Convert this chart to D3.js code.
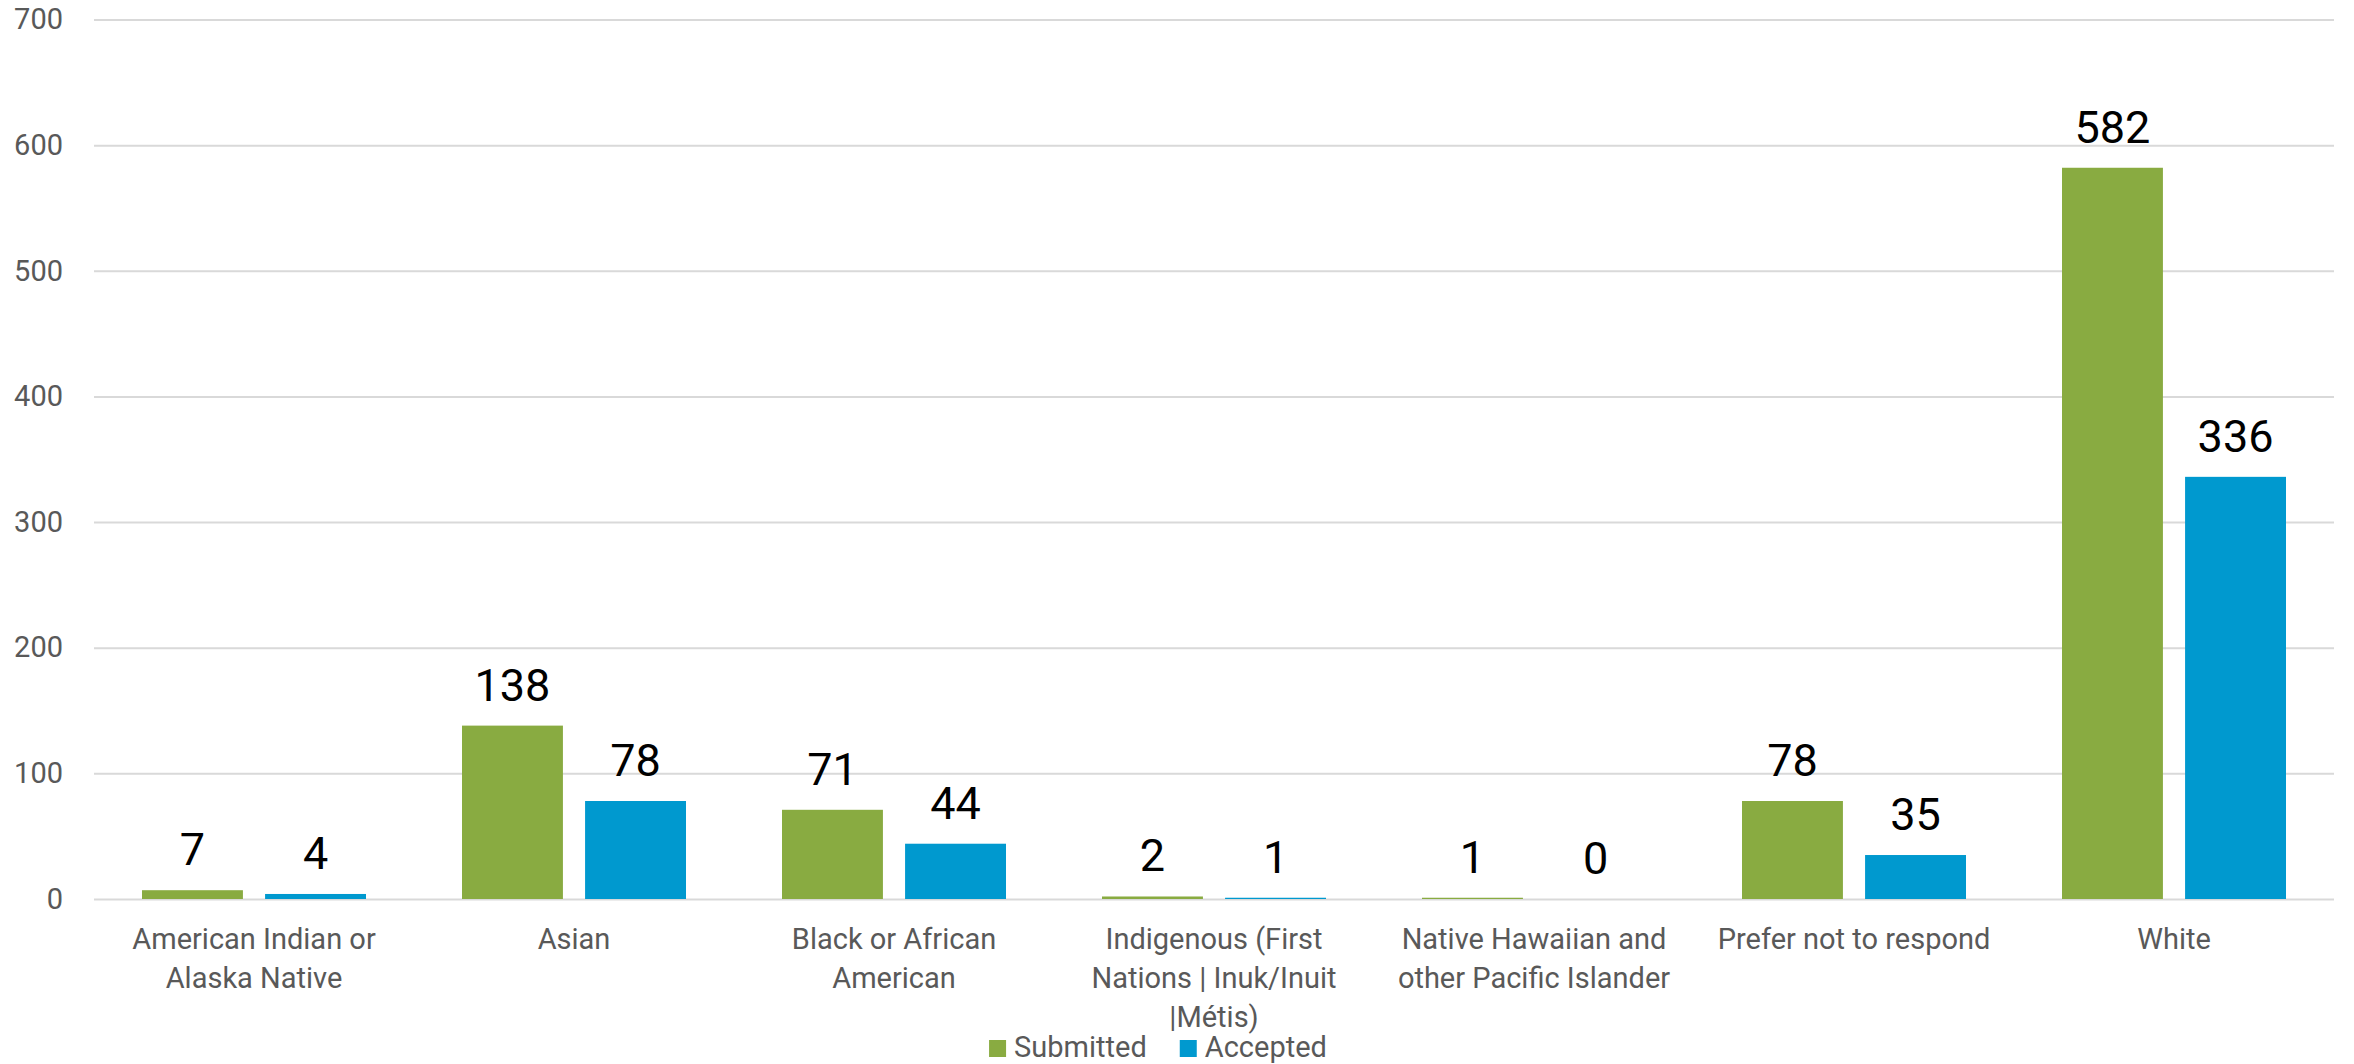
<!DOCTYPE html>
<html>
<head>
<meta charset="utf-8">
<script src="https://cdn.jsdelivr.net/npm/d3@7"></script>
<style>
body { margin: 0; background: #fff; }
text { font-family: Roboto, "Open Sans", sans-serif; }
</style>
</head>
<body>
<div id="chart"></div>
<script>
// data
const categories = [
    "American Indian or Alaska Native",
    "Asian",
    "Black or African American",
    "Indigenous (First Nations | Inuk/Inuit |Métis)",
    "Native Hawaiian and other Pacific Islander",
    "Prefer not to respond",
    "White"
];
const submitted = [7, 138, 71, 2, 1, 78, 582];
const accepted = [4, 78, 44, 1, 0, 35, 336];
const seriesNames = ["Submitted", "Accepted"];
const seriesColors = ["#89ab41", "#0099cf"];
const yTicks = [0, 100, 200, 300, 400, 500, 600, 700];

const width = 2354;
const height = 1064;
const margin = { top: 19.5, left: 94, right: 20, bottom: 165 };
const innerW = width - margin.left - margin.right;
const innerH = height - margin.top - margin.bottom;

// one row per category, with both series
const rows = categories.map((c, i) => ({ category: c, values: [submitted[i], accepted[i]] }));

// scales
const x0 = d3.scaleBand()
    .domain(categories)
    .range([0, innerW])
    .paddingInner(0.3)
    .paddingOuter(0.15);

const x1 = d3.scaleBand()
    .domain(seriesNames)
    .range([0, x0.bandwidth()])
    .padding(0.18)
    .paddingOuter(0);

const yScale = d3.scaleLinear()
    .domain([0, 700])
    .range([innerH, 0]);

const colorScale = d3.scaleOrdinal().domain(seriesNames).range(seriesColors);

const svg = d3.select("#chart").append("svg").attr("width", width).attr("height", height);
const g = svg.append("g").attr("transform", `translate(${margin.left},${margin.top})`);

// y axis with gridlines
const yAxis = d3.axisLeft(yScale).tickValues(yTicks).tickSize(-innerW).tickPadding(31);
const yG = g.append("g").attr("class", "y-axis").call(yAxis);
yG.select(".domain").remove();
yG.selectAll("line").attr("stroke", "#d9d9d9").attr("stroke-width", 2);
yG.selectAll("text")
    .attr("font-size", 29)
    .attr("fill", "#595959")
    .attr("font-family", "Roboto, sans-serif");

// x axis labels, wrapped like the original
const xAxis = d3.axisBottom(x0).tickSize(0).tickPadding(40);
const xG = g.append("g").attr("class", "x-axis").attr("transform", `translate(0,${innerH})`).call(xAxis);
xG.select(".domain").remove();
xG.selectAll("text")
    .attr("font-size", 29)
    .attr("fill", "#595959")
    .attr("font-family", "Roboto, sans-serif")
    .attr("dy", null)
    .each(function (d) { wrap(d3.select(this), d, 300); });

function wrap(text, str, maxW) {
    const words = str.split(" ");
    text.text(null);
    let line = [];
    let lineNo = 0;
    let tspan = text.append("tspan").attr("x", 0).attr("y", 50);
    words.forEach(w => {
        line.push(w);
        tspan.text(line.join(" "));
        if (tspan.node().getComputedTextLength() > maxW && line.length > 1) {
            line.pop();
            tspan.text(line.join(" "));
            line = [w];
            lineNo++;
            tspan = text.append("tspan").attr("x", 0).attr("y", 50 + lineNo * 39).text(w);
        }
    });
}

// bars
const catG = g.selectAll("g.catG")
    .data(rows)
    .join("g")
    .attr("class", "catG")
    .attr("transform", d => `translate(${x0(d.category)},0)`);

const barData = d => d.values.map((v, i) => ({ series: seriesNames[i], value: v }));

catG.selectAll("rect")
    .data(barData)
    .join("rect")
    .attr("x", d => x1(d.series))
    .attr("y", d => yScale(d.value))
    .attr("width", x1.bandwidth())
    .attr("height", d => innerH - yScale(d.value))
    .attr("fill", d => colorScale(d.series));

// data labels
catG.selectAll("text.label")
    .data(barData)
    .join("text")
    .attr("class", "label")
    .attr("x", d => x1(d.series) + x1.bandwidth() / 2)
    .attr("y", d => yScale(d.value) - 25)
    .attr("text-anchor", "middle")
    .attr("font-size", 45)
    .attr("fill", "#000")
    .text(d => d.value);

// legend
const legendG = svg.append("g").attr("class", "legendG");
let lx = 0;
seriesNames.forEach((s, i) => {
    legendG.append("rect")
        .attr("x", lx)
        .attr("y", -17)
        .attr("width", 17)
        .attr("height", 17)
        .attr("fill", seriesColors[i]);
    const t = legendG.append("text")
        .attr("x", lx + 25)
        .attr("y", 0)
        .attr("font-size", 29)
        .attr("fill", "#595959")
        .text(s);
    lx += 25 + t.node().getComputedTextLength() + 33;
});
const legendW = lx - 33;
legendG.attr("transform", `translate(${1158 - legendW / 2},1057)`);
</script>
</body>
</html>
